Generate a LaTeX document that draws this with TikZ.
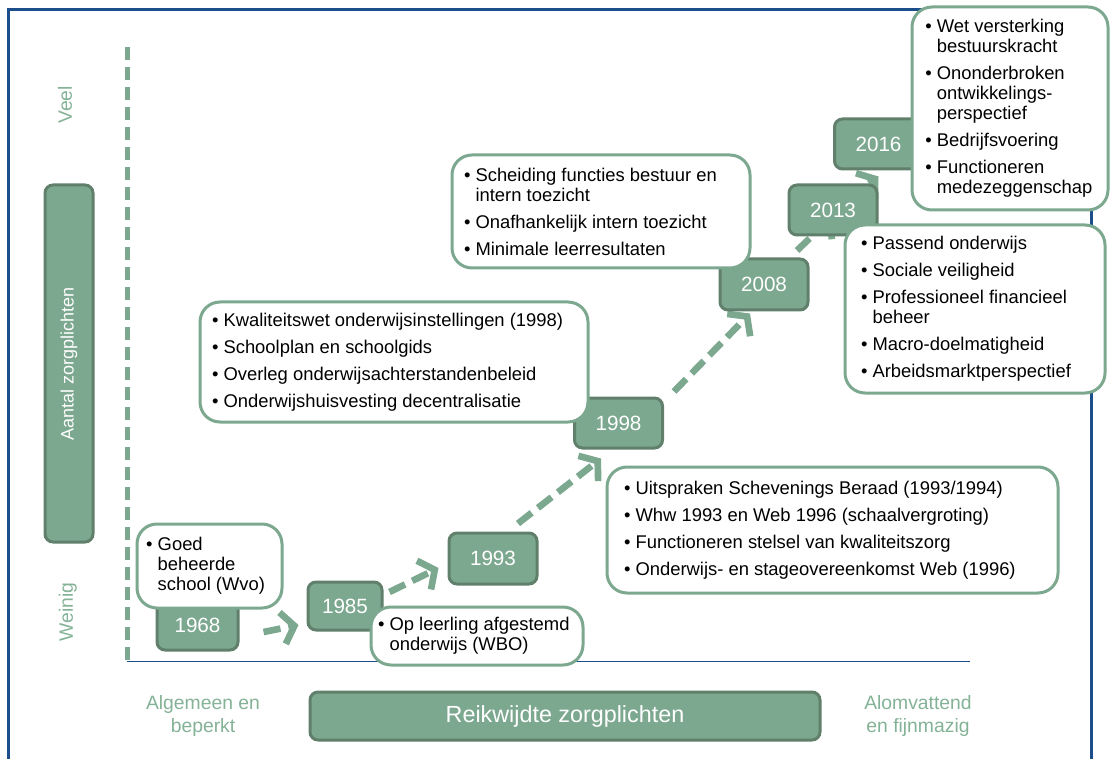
\documentclass[tikz,border=0pt]{standalone}
\usepackage{fontspec}
\setmainfont{Liberation Sans}
\usepackage{xcolor}
\usepackage{tikz}
\usetikzlibrary{arrows.meta, backgrounds}

\definecolor{zgreen}{RGB}{124,168,143}
\definecolor{zdark}{RGB}{96,128,108}
\definecolor{zlight}{RGB}{132,178,150}
\definecolor{zblue}{RGB}{28,78,140}

\newcommand{\bul}{\textbullet\ }
\newcommand{\nob}{\hphantom{\textbullet\ }}

\begin{document}
\begin{tikzpicture}[x=0.75pt, y=-0.75pt]
            \tikzset{
                year_box/.style={draw=zdark, fill=zgreen, line width=2.25pt, rounded corners=6pt, minimum width=66pt, minimum height=37.5pt, text=white, font=\fontsize{15.5}{18}\selectfont},
                text_box/.style={draw=zgreen, fill=white, line width=2.25pt, rounded corners=15pt, align=flush left, font=\fontsize{13.8}{15}\selectfont},
                side_label/.style={text=zlight, align=center, font=\fontsize{14.5}{17.25}\selectfont},
                axis_box/.style={draw=zdark, fill=zgreen, line width=2.25pt, rounded corners=6pt, text=white},
                flow_arrow/.style={draw=zgreen, line width=5pt, dash pattern=on 13pt off 6pt, -{Straight Barb[length=9pt, width=24pt]}}
            }
            \useasboundingbox (0,0) rectangle (1110,759);

            % frame and axes
            \draw[zblue, line width=2.25pt] (8.5,780) -- (8.5,10) -- (1091,10) -- (1091,780);
            \draw[zgreen, line width=3.75pt, dash pattern=on 9.75pt off 5.25pt] (127,47) -- (127,660);
            \draw[zblue, line width=1.1pt] (127,661.5) -- (970,661.5);

            \node[side_label, rotate=90] (veel) at (65,105) {Veel};
            \node[side_label, rotate=90] (weinig) at (68,612) {Weinig};
            \node[axis_box, rotate=90, minimum width=267.75pt, minimum height=36pt, font=\fontsize{13.5}{15}\selectfont] (aantal) at (69,363.5) {Aantal zorgplichten};
            \node[side_label] (algemeen) at (203,716) {Algemeen en\\beperkt};
            \node[axis_box, minimum width=382.5pt, minimum height=36pt, font=\fontsize{17.5}{20}\selectfont] (reikwijdte) at (565,716) {Reikwijdte zorgplichten};
            \node[side_label] (alomvattend) at (918,716) {Alomvattend\\en fijnmazig};

            % years
            \node[year_box, minimum width=60.75pt] (y1968) at (197.5,625) {1968};
            \node[year_box, minimum width=55.5pt, minimum height=36pt] (y1985) at (345,606) {1985};
            \node[year_box, minimum height=38.25pt] (y1993) at (493,558.5) {1993};
            \node[year_box] (y1998) at (618.5,423) {1998};
            \node[year_box, minimum height=38.25pt] (y2008) at (764,284.5) {2008};
            \node[year_box] (y2013) at (833,210) {2013};
            \node[year_box] (y2016) at (878.5,144) {2016};

            \begin{pgfonlayer}{background}
            \draw[flow_arrow] ([shift={(24,7)}]y1968.east) -- ([shift={(-8,19)}]y1985.west);
            \draw[flow_arrow] ([shift={(6,-14)}]y1985.east) -- ([shift={(-9,9.5)}]y1993.west);
            \draw[flow_arrow] ([shift={(25,-8)}]y1993.north) -- ([shift={(-17.5,9)}]y1998.south);
            \draw[flow_arrow] ([shift={(10,-5)}]y1998.north east) -- ([shift={(-14,2)}]y2008.south);
            \draw[flow_arrow] ([shift={(33,-7)}]y2008.north) -- ([shift={(45,-20)}]y2013.south west);
            \draw[flow_arrow] (y2013) -- ([shift={(0,6)}]y2016.south);
            \end{pgfonlayer}

            % duties per year
            \node[text_box, minimum width=108.75pt, minimum height=63pt, text width=95pt] (t1968) at (209.5,566)
                {\bul Goed\\\nob beheerde\\\nob school~(Wvo)};
            \node[text_box, minimum width=159pt, minimum height=43.5pt, text width=148.5pt] (t1985) at (477,636)
                {\bul Op leerling afgestemd\\\nob onderwijs (WBO)};
            \node[text_box, minimum width=338.25pt, minimum height=94.5pt, text width=312.75pt] (t1993) at (832.5,530)
                {\bul Uitspraken Schevenings Beraad (1993/1994)\\[5.25pt]\bul Whw 1993 en Web 1996 (schaalvergroting)\\[5.25pt]\bul Functioneren stelsel van kwaliteitszorg\\[5.25pt]\bul Onderwijs- en stageovereenkomst Web (1996)};
            \node[text_box, minimum width=291pt, minimum height=90pt, text width=273pt] (t1998) at (394,362)
                {\bul Kwaliteitswet onderwijsinstellingen (1998)\\[5.25pt]\bul Schoolplan en schoolgids\\[5.25pt]\bul Overleg onderwijsachterstandenbeleid\\[5.25pt]\bul Onderwijshuisvesting decentralisatie};
            \node[text_box, minimum width=223.5pt, minimum height=84.75pt, text width=205.5pt] (t2008) at (601,211.5)
                {\bul Scheiding functies bestuur en\\\nob intern toezicht\\[5.25pt]\bul Onafhankelijk intern toezicht\\[5.25pt]\bul Minimale leerresultaten};
            \node[text_box, minimum width=195pt, minimum height=126pt, text width=171pt] (t2013) at (975,309)
                {\bul Passend onderwijs\\[5.25pt]\bul Sociale veiligheid\\[5.25pt]\bul Professioneel financieel\\\nob beheer\\[5.25pt]\bul Macro-doelmatigheid\\[5.25pt]\bul Arbeidsmarktperspectief};
            \node[text_box, minimum width=147pt, minimum height=152.25pt, text width=127pt] (t2016) at (1010,108.5)
                {\bul Wet versterking\\\nob bestuurskracht\\[5.25pt]\bul Ononderbroken\\\nob ontwikkelings-\\\nob perspectief\\[5.25pt]\bul Bedrijfsvoering\\[5.25pt]\bul Functioneren\\\nob medezeggenschap};
        \end{tikzpicture}
\end{document}
